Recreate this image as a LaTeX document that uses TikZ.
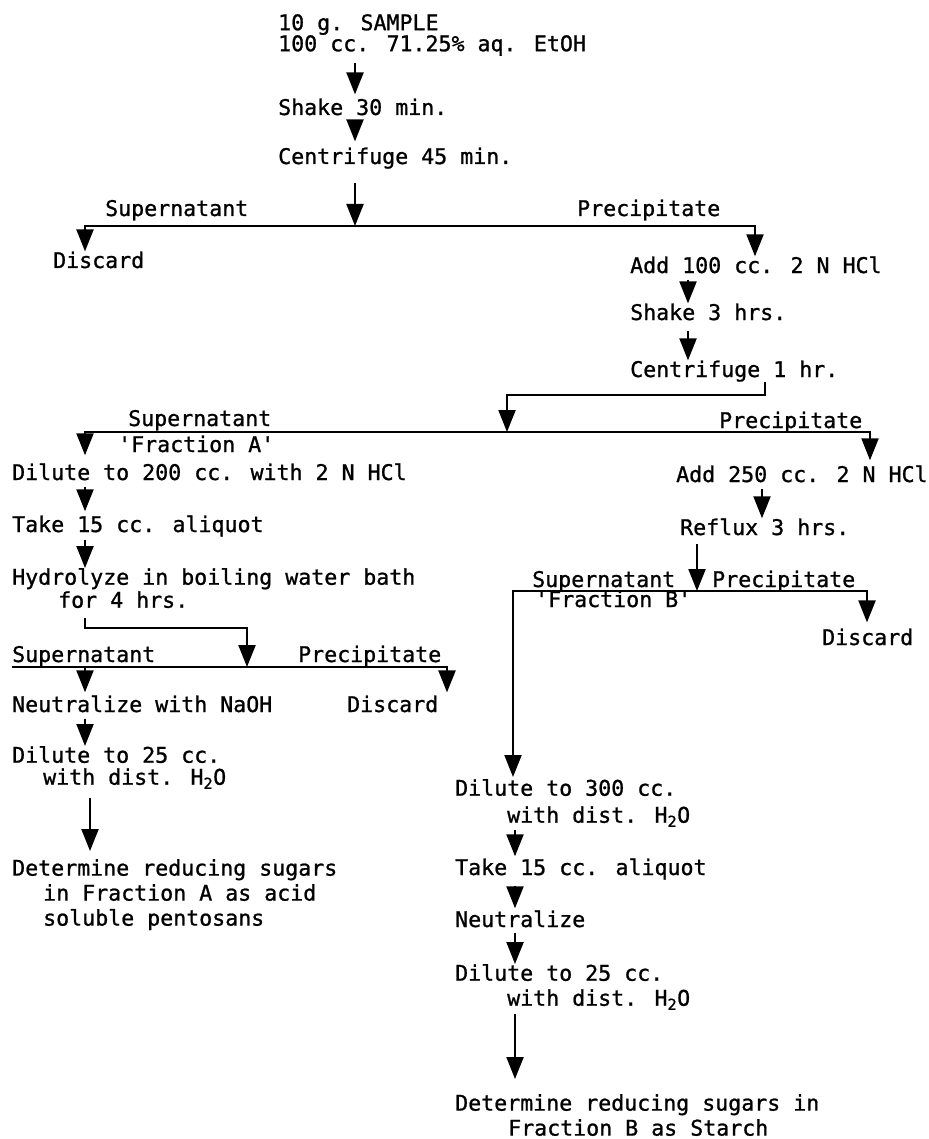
\documentclass[tikz,border=0pt]{standalone}
\usepackage{fontspec}
\newfontfamily\typefont[FakeBold=1]{DejaVu Sans Mono}
\usetikzlibrary{arrows.meta}

\begin{document}
\begin{tikzpicture}[
    x=1pt, y=-1pt, % one unit per pixel, y runs down the sheet
    stepnode/.style={
      inner sep=0pt,
      anchor=base west,
      font=\typefont\fontsize{21.6}{25}\selectfont
    },
    blocknode/.style={
      stepnode,
      anchor=north west,
      align=left
    },
    sidelabel/.style={
      stepnode
    },
    flow/.style={
      line width=2.2pt
    },
    arrow/.style={
      flow,
      -{Triangle[length=22pt,width=17pt]}
    }
  ]
  \useasboundingbox (0,0) rectangle (928,1139);

  % Top column
  \node[blocknode] (sample) at (278,14) {10 g. SAMPLE\\[-4pt]100 cc. 71.25\% aq. EtOH};
  \node[stepnode] (shake1) at (278,115) {Shake 30 min.};
  \node[stepnode] (cent1) at (278,164) {Centrifuge 45 min.};
  \coordinate (j1) at (355,226);

  \node[sidelabel] (sup1) at (105,216) {Supernatant};
  \node[sidelabel] (prec1) at (577,216) {Precipitate};
  \node[stepnode] (discard1) at (53,268) {Discard};

  % Precipitate side - first extraction
  \node[stepnode] (add1) at (630,273) {Add 100 cc. 2 N HCl};
  \node[stepnode] (shake2) at (630,320) {Shake 3 hrs.};
  \node[stepnode] (cent2) at (630,377) {Centrifuge 1 hr.};
  \coordinate (j2) at (507,432);

  \node[sidelabel] (sup2) at (128,426) {Supernatant};
  \node[sidelabel] (fracA) at (118,452) {\textquotesingle Fraction A\textquotesingle};
  \node[sidelabel] (prec2) at (719,428) {Precipitate};

  % Fraction A column
  \node[stepnode] (dil1) at (12,480) {Dilute to 200 cc. with 2 N HCl};
  \node[stepnode] (take1) at (12,532) {Take 15 cc. aliquot};
  \node[blocknode] (hyd) at (12,568) {Hydrolyze in boiling water bath\\[-2pt]\hspace*{46pt}for 4 hrs.};
  \coordinate (j3) at (247,667);
  \coordinate (j3l) at (85,667); % left drop under Supernatant

  \node[sidelabel] (sup3) at (12,662) {Supernatant};
  \node[sidelabel] (prec3) at (298,662) {Precipitate};
  \node[stepnode] (neut1) at (12,712) {Neutralize with NaOH};
  \node[stepnode] (discard2) at (347,712) {Discard};
  \node[blocknode] (dil2) at (12,746) {Dilute to 25 cc.\\[-3pt]\hspace*{31pt}with dist. H\textsubscript{2}O};
  \node[blocknode] (det1) at (12,859) {Determine reducing sugars\\\hspace*{31pt}in Fraction A as acid\\\hspace*{31pt}soluble pentosans};

  % Precipitate side - second extraction
  \node[stepnode] (add2) at (676,482) {Add 250 cc. 2 N HCl};
  \node[stepnode] (reflux) at (680,535) {Reflux 3 hrs.};
  \coordinate (j4) at (697,591);

  \node[sidelabel] (sup4) at (532,587) {Supernatant};
  \node[sidelabel] (prec4) at (712,587) {Precipitate};
  \node[sidelabel] (fracB) at (535,607) {\textquotesingle Fraction B\textquotesingle};
  \node[stepnode] (discard3) at (822,645) {Discard};

  % Fraction B column
  \node[blocknode] (dil3) at (455,779) {Dilute to 300 cc.\\[2pt]\hspace*{52pt}with dist. H\textsubscript{2}O};
  \node[stepnode] (take2) at (455,875) {Take 15 cc. aliquot};
  \node[stepnode] (neut2) at (455,927) {Neutralize};
  \node[blocknode] (dil4) at (455,964) {Dilute to 25 cc.\\\hspace*{52pt}with dist. H\textsubscript{2}O};
  \node[blocknode] (det2) at (455,1094) {Determine reducing sugars in\\\hspace*{53pt}Fraction B as Starch};

  % Arrows - top column
  \draw[arrow] ([xshift=77pt,yshift=-7pt]sample.south west) -- ([xshift=77pt,yshift=4pt]shake1.north west);
  \draw[arrow] ([xshift=77pt,yshift=-5pt]shake1.south west) -- ([xshift=77pt,yshift=6pt]cent1.north west);
  \draw[arrow] ([xshift=77pt,yshift=-14pt]cent1.south west) -- (j1);
  \draw[arrow] (j1) -| ([xshift=32pt]discard1.north west);
  \draw[arrow] (j1) -| ([xshift=125pt]add1.north west);

  % Arrows - first extraction
  \draw[arrow] ([xshift=58pt,yshift=-6pt]add1.south west) -- ([xshift=58pt]shake2.north west);
  \draw[arrow] ([xshift=58pt,yshift=-10pt]shake2.south west) -- ([xshift=58pt]cent2.north west);
  \draw[arrow] ([xshift=135pt]cent2.south west) -- ++(0,13) -| (j2);
  \draw[arrow] (j2) -| ([xshift=73pt,yshift=8pt]dil1.north west);
  \draw[arrow] (j2) -| ([xshift=194pt,yshift=5pt]add2.north west);

  % Arrows - Fraction A
  \draw[arrow] ([xshift=73pt,yshift=-6pt]dil1.south west) -- ([xshift=73pt,yshift=4pt]take1.north west);
  \draw[arrow] ([xshift=73pt,yshift=-3pt]take1.south west) -- ([xshift=73pt]hyd.north west);
  \draw[arrow] ([xshift=73pt,yshift=-10pt]hyd.south west) -- ++(0,10) -| (j3);
  \draw[flow] (sup3.west |- j3) -- (j3);
  \draw[arrow] (j3) -| ([xshift=100pt,yshift=3pt]discard2.north west);
  \draw[arrow] (j3l) -- ([xshift=73pt,yshift=3pt]neut1.north west);
  \draw[arrow] ([xshift=73pt,yshift=-6pt]neut1.south west) -- ([xshift=73pt]dil2.north west);
  \draw[arrow] ([xshift=78pt,yshift=-9pt]dil2.south west) -- ([xshift=78pt,yshift=8pt]det1.north west);

  % Arrows - second extraction
  \draw[arrow] ([xshift=86pt,yshift=-6pt]add2.south west) -- ([xshift=82pt]reflux.north west);
  \draw[arrow] ([xshift=17pt,yshift=-8pt]reflux.south west) -- (j4);
  \draw[arrow] (j4) -| ([xshift=58pt,yshift=2pt]dil3.north west);
  \draw[arrow] (j4) -| ([xshift=45pt,yshift=6pt]discard3.north west);

  % Arrows - Fraction B
  \draw[arrow] ([xshift=60pt,yshift=-3pt]dil3.south west) -- ([xshift=60pt,yshift=2pt]take2.north west);
  \draw[arrow] ([xshift=60pt,yshift=-6pt]take2.south west) -- ([xshift=60pt,yshift=2pt]neut2.north west);
  \draw[arrow] ([xshift=60pt,yshift=-5pt]neut2.south west) -- ([xshift=60pt]dil4.north west);
  \draw[arrow] ([xshift=60pt,yshift=-4pt]dil4.south west) -- ([xshift=60pt,yshift=15pt]det2.north west);

\end{tikzpicture}
\end{document}
